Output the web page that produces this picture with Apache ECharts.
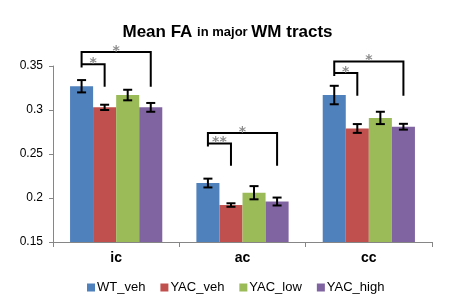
<!DOCTYPE html>
<html>
<head>
<meta charset="utf-8">
<script src="https://cdn.jsdelivr.net/npm/echarts@6/dist/echarts.min.js"></script>
<style>
  html, body { margin: 0; padding: 0; background: #fff; }
  #main { width: 455px; height: 302px; }
</style>
</head>
<body>
<div id="main"></div>
<script>
// data
var categories = ['ic', 'ac', 'cc'];
var groupNames = ['WT_veh', 'YAC_veh', 'YAC_low', 'YAC_high'];
var groupColors = ['#4F81BD', '#C0504D', '#9BBB59', '#8064A2'];

var wtVeh   = [0.327, 0.217, 0.317];
var yacVeh  = [0.303, 0.192, 0.279];
var yacLow  = [0.317, 0.206, 0.291];
var yacHigh = [0.303, 0.196, 0.281];

var wtVehErr   = [0.007, 0.005, 0.0105];
var yacVehErr  = [0.003, 0.002, 0.005];
var yacLowErr  = [0.006, 0.0075, 0.007];
var yacHighErr = [0.005, 0.0045, 0.0033];

// significance brackets (from WT_veh bar to the bar index in bracketTo)
var bracketCat     = [0, 0, 1, 1, 2, 2];
var bracketTo      = [3, 1, 3, 1, 3, 1];
var bracketLevel   = [0.366, 0.352, 0.274, 0.262, 0.355, 0.342];
var bracketLeftEnd = [0.3484, 0.352, 0.2585, 0.262, 0.3387, 0.342];
var bracketDrop    = [0.3264, 0.3264, 0.2366, 0.2366, 0.3163, 0.3163];
var bracketMarks   = ['*', '*', '*', '**', '*', '*'];

var values = [wtVeh, yacVeh, yacLow, yacHigh];
var errors = [wtVehErr, yacVehErr, yacLowErr, yacHighErr];
var GAP = 0.27;

function barWidth(api) {
  return api.size([1, 0])[0] * (1 - GAP) / 4;
}

var errData = [];
values.forEach(function (arr, s) {
  arr.forEach(function (v, c) {
    errData.push([c, s, v, errors[s][c]]);
  });
});

var brData = bracketCat.map(function (c, i) {
  return [c, bracketTo[i], bracketLevel[i], bracketLeftEnd[i], bracketDrop[i]];
});

var series = values.map(function (arr, s) {
  return {
    name: groupNames[s],
    type: 'bar',
    data: arr,
    barGap: 0,
    barCategoryGap: (GAP * 100) + '%',
    itemStyle: { color: groupColors[s] }
  };
});

series.push({
  type: 'custom',
  name: 'err',
  data: errData,
  encode: { x: 0, y: 2 },
  z: 5,
  renderItem: function (params, api) {
    var c = api.value(0), s = api.value(1), v = api.value(2), e = api.value(3);
    var bw = barWidth(api);
    var x = api.coord([c, v])[0] + (s - 1.5) * bw;
    var top = api.coord([c, v + e])[1];
    var bot = api.coord([c, v - e])[1];
    var hw = 4.5;
    var st = { stroke: '#000', lineWidth: 2 };
    return {
      type: 'group',
      children: [
        { type: 'line', shape: { x1: x, y1: top, x2: x, y2: bot }, style: st },
        { type: 'line', shape: { x1: x - hw, y1: top, x2: x + hw, y2: top }, style: st },
        { type: 'line', shape: { x1: x - hw, y1: bot, x2: x + hw, y2: bot }, style: st }
      ]
    };
  }
});

series.push({
  type: 'custom',
  name: 'sig',
  data: brData,
  encode: { x: 0, y: 2 },
  z: 6,
  renderItem: function (params, api) {
    var c = api.value(0), to = api.value(1), lv = api.value(2), le = api.value(3), dr = api.value(4);
    var bw = barWidth(api);
    var cx = api.coord([c, lv])[0];
    var x0 = cx - 1.5 * bw;
    var x1 = cx + (to - 1.5) * bw;
    var yl = api.coord([c, lv])[1];
    var ye = api.coord([c, le])[1];
    var yd = api.coord([c, dr])[1];
    var st = { stroke: '#000', lineWidth: 2, fill: null };
    return {
      type: 'group',
      children: [
        { type: 'polyline', shape: { points: [[x0, ye], [x0, yl], [x1, yl], [x1, yd]] }, style: st },
        {
          type: 'text',
          style: {
            text: bracketMarks[params.dataIndex],
            x: (x0 + x1) / 2, y: yl - 1,
            align: 'center', verticalAlign: 'middle',
            fill: '#8c8c8c', font: 'bold 14px "DejaVu Sans"'
          }
        }
      ]
    };
  }
});

var chart = echarts.init(document.getElementById('main'));
chart.setOption({
  animation: false,
  title: {
    text: '{a|Mean FA }{b|in major }{a|WM tracts}',
    left: 'center',
    top: 19,
    textStyle: {
      rich: {
        a: { fontFamily: 'Liberation Sans', fontWeight: 'bold', fontSize: 17, color: '#000' },
        b: { fontFamily: 'Liberation Sans', fontWeight: 'bold', fontSize: 13, color: '#000' }
      }
    }
  },
  legend: {
    data: groupNames,
    left: 82,
    top: 276,
    icon: 'rect',
    itemWidth: 8,
    itemHeight: 8,
    itemGap: 15,
    textStyle: { fontFamily: 'Liberation Sans', fontSize: 13, color: '#000', padding: [0, 0, 0, -3] }
  },
  grid: { left: 53, right: 23, top: 66, bottom: 60 },
  xAxis: {
    type: 'category',
    data: categories,
    axisLine: { lineStyle: { color: '#868686', width: 1 } },
    axisTick: { show: true, length: 5, lineStyle: { color: '#868686' } },
    axisLabel: { fontFamily: 'Liberation Sans', fontWeight: 'bold', fontSize: 14, color: '#000', margin: 9 }
  },
  yAxis: {
    type: 'value',
    min: 0.15,
    max: 0.35,
    interval: 0.05,
    splitLine: { show: false },
    axisLine: { show: true, lineStyle: { color: '#868686', width: 1 } },
    axisTick: { show: true, length: 4, lineStyle: { color: '#868686' } },
    axisLabel: { fontFamily: 'Liberation Sans', fontSize: 12, color: '#000', margin: 10 }
  },
  series: series
});
</script>
</body>
</html>
